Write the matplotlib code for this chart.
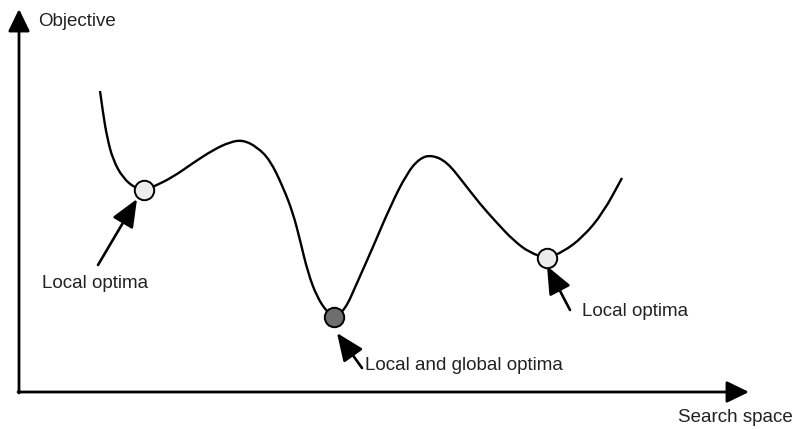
import matplotlib.pyplot as plt
from matplotlib.path import Path
from matplotlib.patches import PathPatch

plt.rcParams['font.family'] = ['Liberation Sans', 'DejaVu Sans']

# Objective landscape (x = search space, y = objective)
search_x = [81, 84, 88, 94, 104, 116, 125, 134, 154, 174, 194, 211, 224, 238,
            251, 264, 274, 281, 289, 298, 308, 315, 326, 338, 354, 371, 388,
            401, 413, 428, 444, 461, 478, 494, 511, 528, 544, 564, 584, 603]
objective = [301, 279, 255, 232, 214, 204, 202, 205, 215, 229, 242, 250, 252,
             245, 232, 205, 179, 152, 119, 95, 80, 75, 82, 109, 145, 185, 219,
             234, 237, 230, 210, 188, 169, 152, 139, 134, 140, 155, 179, 214]

# Highlighted optima
opt_x = [125, 315, 528]
opt_y = [202, 75, 134]
opt_colors = ['#ececec', '#6e6e6e', '#ececec']

# Annotation labels
labels = ['Local optima', 'Local and global optima', 'Local optima']
label_pos = [(23, 109), (346, 27), (563, 80)]
arrow_tail = [(79, 127), (343, 24), (551, 82)]
arrow_tip = [(118, 193), (318, 59), (528, 126)]

fig = plt.figure(figsize=(7.96, 4.29), dpi=100)
ax = fig.add_axes([0, 0, 1, 1])
ax.set_xlim(-19, 777)
ax.set_ylim(-37, 392)
ax.axis('off')

# Axes drawn as arrows
axis_style = dict(arrowstyle='-|>,head_length=0.68,head_width=0.33',
                  mutation_scale=20, color='black', lw=2.0,
                  shrinkA=0, shrinkB=0)
ax.annotate('', xy=(0, 383), xytext=(0, -1), arrowprops=axis_style)
ax.annotate('', xy=(730, 0), xytext=(-1, 0), arrowprops=axis_style)
ax.text(19, 370, 'Objective', fontsize=13.5, color='#222222',
        ha='left', va='center')
ax.text(774, -25, 'Search space', fontsize=13.5, color='#222222',
        ha='right', va='center')

# Smooth curve: read points used as quadratic Bezier controls
pts = list(zip(search_x, objective))
verts = [pts[0]]
codes = [Path.MOVETO]
for p, q in zip(pts[1:-1], pts[2:]):
    verts += [p, ((p[0] + q[0]) / 2, (p[1] + q[1]) / 2)]
    codes += [Path.CURVE3, Path.CURVE3]
verts.append(pts[-1])
codes.append(Path.LINETO)
ax.add_patch(PathPatch(Path(verts, codes), fill=False, edgecolor='black',
                       lw=1.7, capstyle='butt', zorder=2))

for x, y, c in zip(opt_x, opt_y, opt_colors):
    ax.plot(x, y, 'o', ms=14, mfc=c, mec='black', mew=1.4, zorder=3)

arrow_style = dict(arrowstyle='-|>,head_length=0.85,head_width=0.36',
                   mutation_scale=20, color='black', lw=1.9,
                   shrinkA=0, shrinkB=0)
for text, pos, tail, tip in zip(labels, label_pos, arrow_tail, arrow_tip):
    ax.annotate('', xy=tip, xytext=tail, arrowprops=arrow_style)
    ax.text(pos[0], pos[1], text, fontsize=13.5, color='#222222',
            ha='left', va='center')

fig.savefig('out.png', dpi=100)
